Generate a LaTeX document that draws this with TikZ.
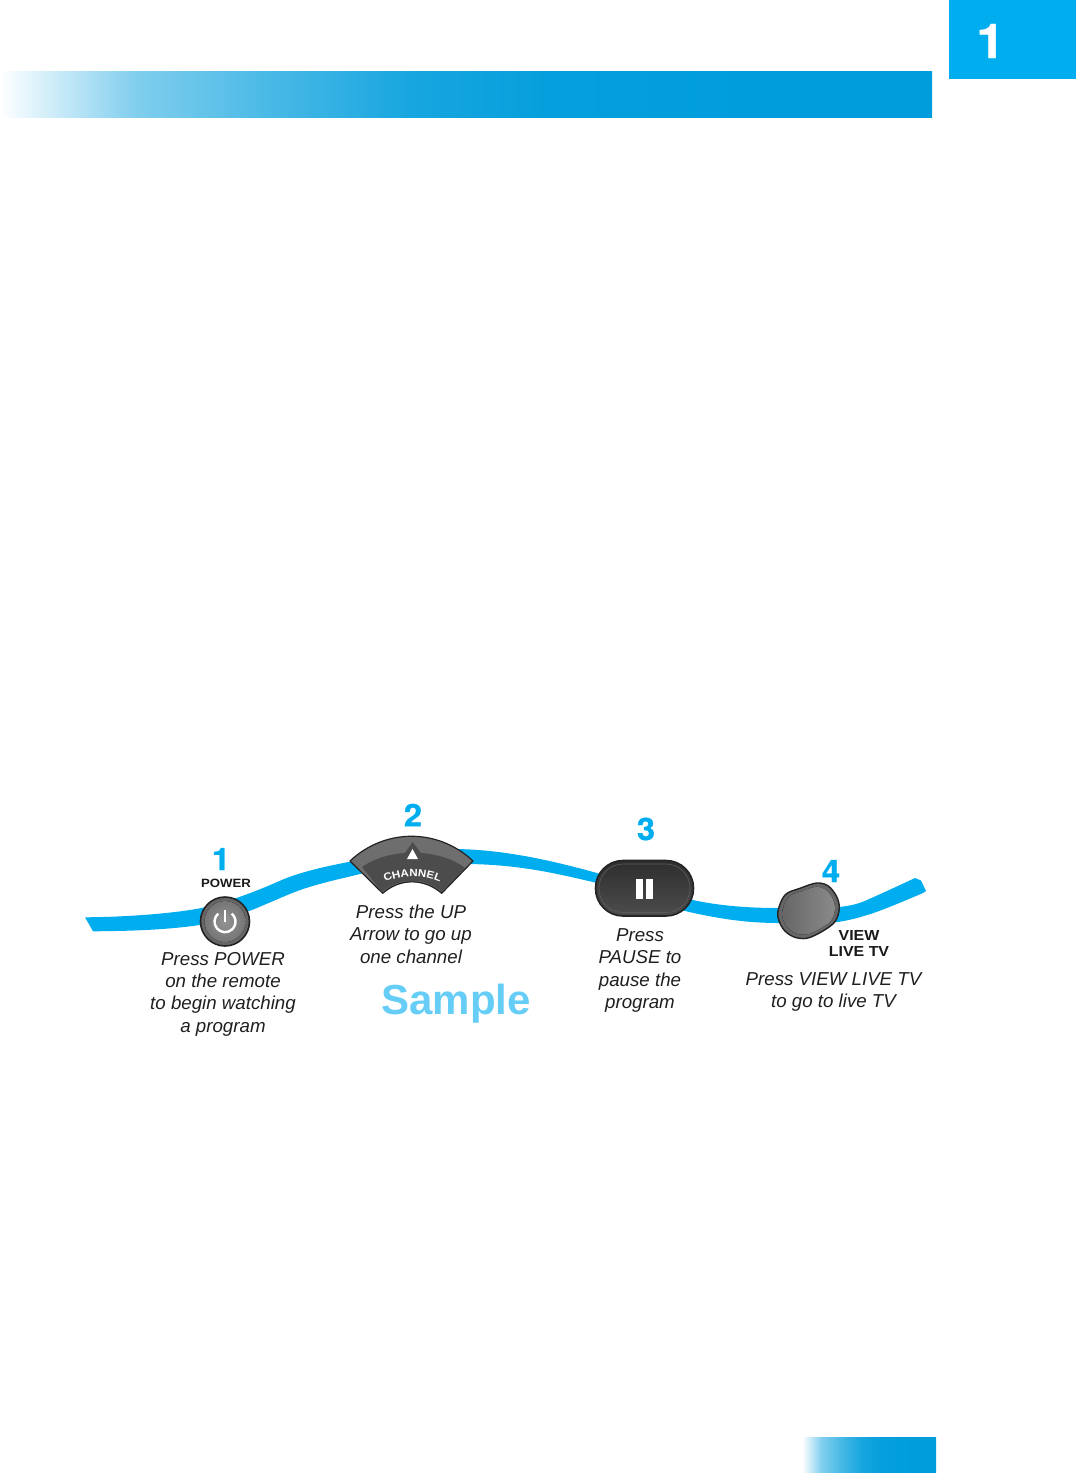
\documentclass[tikz,border=0pt]{standalone}
\usepackage{fontspec}
\setmainfont{Liberation Sans}
\newfontfamily\numfont{TeX Gyre Heros Bold}[FakeStretch=1.06,FakeBold=.8]
\newfontfamily\keyfont{Liberation Sans Bold}[FakeStretch=1.1]
\usetikzlibrary{%
	calc,%
	decorations.text
}
\definecolor{tabblue}{HTML}{00AEEF}
\definecolor{barblue}{HTML}{009DDC}
\definecolor{samplecol}{HTML}{66CDF6}
\definecolor{rimcol}{HTML}{232323}
\pgfdeclarehorizontalshading{barfade}{100bp}{%
	color(0bp)=(white);
	color(25bp)=(white);
	color(32.35bp)=(barblue!50);
	color(39.7bp)=(barblue!72);
	color(47.1bp)=(barblue!91);
	color(54.5bp)=(barblue!98);
	color(65bp)=(barblue);
	color(100bp)=(barblue)}
\tikzset{
	stepnum/.style={text=tabblue,font=\numfont\fontsize{31}{31}\selectfont,inner sep=0pt},
	keylabel/.style={text=black!90,font=\keyfont\fontsize{14.5}{16}\selectfont,inner sep=0pt,align=center},
	hint/.style={text=black!88,font=\itshape\fontsize{18.7}{22.4}\selectfont,inner sep=0pt,align=center},
	fadebar/.style={shading=barfade},
	liveshape/.style={insert path={plot[smooth cycle,tension=.55] coordinates {(777.7,913.3) (785,895) (800,888.3) (816.7,883) (828.3,886) (836.7,896.7) (839.3,908.3) (835,921.7) (821.7,931.7) (806.7,938.3) (793.3,936.7) (782.7,928.3)}}}
}
\begin{document}
\begin{tikzpicture}[x=1pt,y=-1pt]
	\useasboundingbox (0,0) rectangle (1076,1484);
	% Header and footer
	\fill[fadebar] (0,71) rectangle (932,117.7);
	\fill[fadebar] (802,1437) rectangle (936,1472);
	\fill[tabblue] (949,0) rectangle (1076,79);
	\node[text=white,font=\numfont\fontsize{48}{48}\selectfont,inner sep=0pt] (tabnum) at (990.5,41) {1};
	% Wave
	\fill[tabblue] (85,917.3) .. controls (130,917) and (175,913) .. (200,908.3)
		.. controls (225,903) and (255,892) .. (280,880.7)
		.. controls (300,872) and (325,866.5) .. (350,861.7)
		.. controls (385,854) and (425,848) .. (457,849)
		.. controls (505,850) and (550,860) .. (597,873)
		.. controls (630,883) and (660,893) .. (693,900)
		.. controls (720,906) and (750,908) .. (778,908)
		-- (838,907)
		.. controls (850,906) and (858,904) .. (867,900)
		.. controls (885,892) and (900,885) .. (915,878)
		-- (921,880.5) -- (926,891) -- (923,893)
		.. controls (895,905) and (875,913) .. (867,915)
		.. controls (858,918) and (850,920) .. (838,922)
		-- (778,923)
		.. controls (745,923) and (715,918) .. (685,911)
		.. controls (655,904) and (625,890) .. (597,883)
		.. controls (555,873) and (520,865) .. (470,864)
		-- (363,873.3)
		.. controls (340,879) and (315,884) .. (293,892.7)
		.. controls (275,900) and (260,907) .. (250,910.7)
		.. controls (235,916) and (215,922) .. (200,925)
		.. controls (165,930) and (130,931) .. (93,931.3)
		-- cycle;
	% Power button
	\draw[rimcol,line width=1.6pt,fill=black!60] (225,921.5) circle (24.5);
	\fill[inner color=black!42,outer color=black!54] (225,921.5) circle (20.5);
	\draw[white,line width=2.4pt] (218.25,913.6) arc (-130:-410:10.5);
	\draw[white,line width=2.4pt] (225,910) -- (225,921.5);
	% Channel button
	\draw[rimcol,line width=1.2pt,fill=black!57,line join=round] (350,861) .. controls (385,828) and (438,828) .. (473,861) -- (441.7,893.3) .. controls (424,878) and (400,878) .. (382.7,893.3) -- cycle;
	\fill[black!70] (362,867) .. controls (375,858) and (390,854) .. (405,853) -- (412.5,842) -- (421,853) .. controls (435,854) and (452,858) .. (465,868) -- (442,892) .. controls (424,877) and (400,877) .. (382,892) -- cycle;
	\fill[white] (412.5,849) -- (418,859) -- (407,859) -- cycle;
	\path[decorate,decoration={text along path,text align=center,
		text={|\keyfont\fontsize{10.5}{10.5}\selectfont\color{white}|CHANNEL}}] (383,883) .. controls (402,874) and (422,874) .. (442,883);
	% Pause button
	\draw[rimcol,line width=1.6pt,top color=black!82,bottom color=black!70,rounded corners=27.5pt] (595.5,860.5) rectangle (693.5,916);
	\draw[black!64,line width=.6pt,rounded corners=24pt] (599,864) rectangle (690,912.5);
	\fill[white] (636,878.5) rectangle (643.3,899);
	\fill[white] (646,878.5) rectangle (653.3,899);
	% Live TV button
	\draw[rimcol,line width=1.4pt,fill=black!60,liveshape];
	\fill[left color=black!60,right color=black!46,scale around={.86:(808.5,911)},liveshape];
	% Labels
	\node[stepnum] (stepa) at (221,859) {1};
	\node[stepnum] (stepb) at (413,815) {2};
	\node[stepnum] (stepc) at (646,829) {3};
	\node[stepnum] (stepd) at (831,871) {4};
	\node[keylabel,font=\keyfont\fontsize{12}{13}\selectfont] (powerkey) at (226,883) {POWER};
	\node[keylabel] (livekey) at (859,943) {VIEW\\LIVE TV};
	\node[hint] (powerhint) at (223,994) {Press POWER\\on the remote\\to begin watching\\a program};
	\node[hint] (channelhint) at (411,934) {Press the UP\\Arrow to go up\\one channel};
	\node[hint] (pausehint) at (640,970.5) {Press\\PAUSE to\\pause the\\program};
	\node[hint] (livehint) at (833.5,992) {Press VIEW LIVE TV\\to go to live TV};
	\node[text=samplecol,font=\bfseries\fontsize{42}{42}\selectfont,inner sep=0pt] (sample) at (456,1004) {Sample};
\end{tikzpicture}
\end{document}
